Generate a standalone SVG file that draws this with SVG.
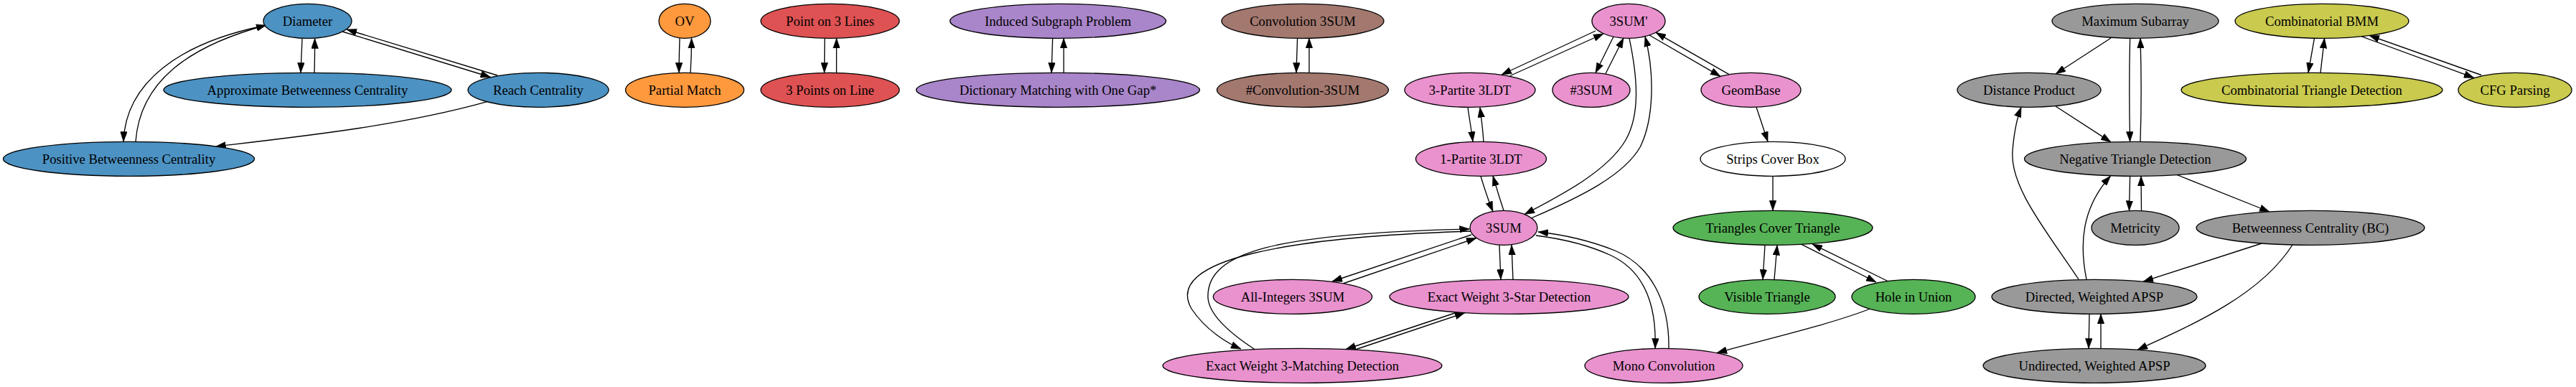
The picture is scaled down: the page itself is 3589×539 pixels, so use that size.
<svg xmlns="http://www.w3.org/2000/svg" width="3589" height="539" viewBox="0 0 3589 539">
<style>
.n ellipse{stroke:#000;stroke-width:1.33}
.n text{font-family:"Liberation Serif","Times New Roman",serif;font-size:18.67px;text-anchor:middle;fill:#000}
.e path{fill:none;stroke:#000;stroke-width:1.33;marker-end:url(#a)}
.blue{fill:#4c92c3}.orange{fill:#ff993e}.red{fill:#de5253}.purple{fill:#a985ca}.brown{fill:#a3786f}
.pink{fill:#e992ce}.gray{fill:#999999}.green{fill:#56b356}.olive{fill:#c9ca4e}.white{fill:#ffffff}
</style>
<defs>
<marker id="a" markerUnits="userSpaceOnUse" markerWidth="14" markerHeight="10" viewBox="0 0 13.33 9.33" refX="13.33" refY="4.67" orient="auto">
<path d="M0,0 L13.33,4.67 L0,9.33 z" fill="#000" stroke="#000" stroke-width="0.5"/>
</marker>
</defs>
<rect width="3589" height="539" fill="#fff"/>
<g id="edges" class="e">
<path d="M421,53.5 C420.5,70 419.5,85 419,101.3"/>
<path d="M438,101.3 C438.5,85 438.6,70 438.6,53.5"/>
<path d="M477,44 L683.5,107.5"/>
<path d="M693,105 L483,41"/>
<path d="M367,36 C250,60 175,115 172,197.3"/>
<path d="M189,197.3 C195,115 260,65 371,35"/>
<path d="M678.6,141.7 C560,175 420,190 300.5,204"/>
<path d="M947,53.3 C946.5,70 946,85 946,101.3"/>
<path d="M962,101.3 C963,85 963.5,70 963.5,53.3"/>
<path d="M1149,53.3 L1148.5,101.3"/>
<path d="M1165.5,101.3 L1165.5,53.3"/>
<path d="M1466.6,53.3 L1465,101.3"/>
<path d="M1482,101.3 L1482,53.3"/>
<path d="M1807.6,53.3 L1806,101.3"/>
<path d="M1824,101.3 L1824,53.3"/>
<path d="M2223,43 L2092,104"/>
<path d="M2104,105.5 L2234,47"/>
<path d="M2248,51 L2223,101.5"/>
<path d="M2237,102.5 L2262,53"/>
<path d="M2298,49 L2397,106.3"/>
<path d="M2409,103.7 L2307,45.3"/>
<path d="M2270,53.3 C2282,110 2285,160 2265,195 C2240,238 2175,272 2124,298.5"/>
<path d="M2134,303.5 C2200,275 2262,245 2285,205 C2305,165 2305,100 2292,51"/>
<path d="M2045,149 C2047,165 2050,180 2052,197.3"/>
<path d="M2067,197.3 C2066,182 2064,165 2062,149.5"/>
<path d="M2063,245.3 C2068,262 2074,280 2080,294.6"/>
<path d="M2095,293.3 C2090,278 2085,262 2080,245"/>
<path d="M2050,327 L1856,392"/>
<path d="M1868,396 L2057,331.5"/>
<path d="M2089,341.3 L2091,389.3"/>
<path d="M2108,389.3 L2106,341.3"/>
<path d="M2049,322 C1800,330 1620,360 1660,430 C1680,460 1710,478 1729,486"/>
<path d="M1748,486.5 C1715,465 1685,440 1683,415 C1680,350 1780,325 2047.5,319"/>
<path d="M2030,435 L1875,486.5"/>
<path d="M1888,487 L2041,435.6"/>
<path d="M2140,328 C2180,333 2215,342 2245,356 C2295,380 2308,430 2306,485.3"/>
<path d="M2325,485.3 C2326,420 2300,370 2250,349 C2215,335 2180,327 2143,323"/>
<path d="M2606,430 C2540,455 2450,475 2392,491.5"/>
<path d="M2447,149.2 L2463,197.3"/>
<path d="M2470,245.3 L2470,293.3"/>
<path d="M2459,341.5 L2456,389.3"/>
<path d="M2472,389.3 L2476,341.5"/>
<path d="M2510,340.3 L2614,393"/>
<path d="M2630,391.5 L2525,340"/>
<path d="M2941,53 L2864,103"/>
<path d="M2967.6,53.3 C2966.5,100 2966.5,150 2967.6,197.3"/>
<path d="M2982,197.3 C2983.5,150 2983.5,100 2982,53.3"/>
<path d="M2864,148 L2941,197.9"/>
<path d="M2896,389 C2850,320 2800,260 2804,210 C2806,185 2810,165 2816,149.3"/>
<path d="M2907,389.3 C2897,340 2900,290 2940.6,245"/>
<path d="M2967.6,245.3 L2966.5,293.5"/>
<path d="M2983.5,293.5 L2983,245.3"/>
<path d="M3033,243.5 L3162,295"/>
<path d="M3151,339 L2986,392.2"/>
<path d="M3194,341 C3150,410 3060,450 2978,487.2"/>
<path d="M2911,437.2 L2910,485.4"/>
<path d="M2927,485.4 L2927,437.3"/>
<path d="M3224.5,53.2 L3216,101.3"/>
<path d="M3233,101.3 L3238.6,53.2"/>
<path d="M3290,50.7 L3447,108.4"/>
<path d="M3457,104.5 L3301,49.4"/>
</g>
<g id="n-diameter" class="n"><ellipse class="blue" cx="428.5" cy="29.3" rx="61.5" ry="24"/><text x="428.5" y="35.8">Diameter</text></g>
<g id="n-approx-bc" class="n"><ellipse class="blue" cx="428.5" cy="125.3" rx="200.5" ry="24"/><text x="428.5" y="131.8">Approximate Betweenness Centrality</text></g>
<g id="n-reach" class="n"><ellipse class="blue" cx="750" cy="125.3" rx="98" ry="24"/><text x="750" y="131.8">Reach Centrality</text></g>
<g id="n-positive-bc" class="n"><ellipse class="blue" cx="179.5" cy="221.3" rx="175" ry="24"/><text x="179.5" y="227.8">Positive Betweenness Centrality</text></g>
<g id="n-ov" class="n"><ellipse class="orange" cx="954" cy="29.3" rx="36" ry="24"/><text x="954" y="35.8">OV</text></g>
<g id="n-partial-match" class="n"><ellipse class="orange" cx="954" cy="125.3" rx="82.5" ry="24"/><text x="954" y="131.8">Partial Match</text></g>
<g id="n-point-3-lines" class="n"><ellipse class="red" cx="1156.5" cy="29.3" rx="96.5" ry="24"/><text x="1156.5" y="35.8">Point on 3 Lines</text></g>
<g id="n-3-points-line" class="n"><ellipse class="red" cx="1156.5" cy="125.3" rx="96.5" ry="24"/><text x="1156.5" y="131.8">3 Points on Line</text></g>
<g id="n-induced" class="n"><ellipse class="purple" cx="1474" cy="29.3" rx="150.5" ry="24"/><text x="1474" y="35.8">Induced Subgraph Problem</text></g>
<g id="n-dict" class="n"><ellipse class="purple" cx="1474" cy="125.3" rx="197.5" ry="24"/><text x="1474" y="131.8">Dictionary Matching with One Gap*</text></g>
<g id="n-conv3sum" class="n"><ellipse class="brown" cx="1815" cy="29.3" rx="113" ry="24"/><text x="1815" y="35.8">Convolution 3SUM</text></g>
<g id="n-sharp-conv3sum" class="n"><ellipse class="brown" cx="1815" cy="125.3" rx="119.5" ry="24"/><text x="1815" y="131.8">#Convolution-3SUM</text></g>
<g id="n-3sum-prime" class="n"><ellipse class="pink" cx="2269" cy="29.3" rx="51" ry="24"/><text x="2269" y="35.8">3SUM'</text></g>
<g id="n-3partite" class="n"><ellipse class="pink" cx="2048" cy="125.3" rx="91" ry="24"/><text x="2048" y="131.8">3-Partite 3LDT</text></g>
<g id="n-sharp-3sum" class="n"><ellipse class="pink" cx="2217" cy="125.3" rx="54" ry="24"/><text x="2217" y="131.8">#3SUM</text></g>
<g id="n-geombase" class="n"><ellipse class="pink" cx="2439.5" cy="125.3" rx="69.5" ry="24"/><text x="2439.5" y="131.8">GeomBase</text></g>
<g id="n-1partite" class="n"><ellipse class="pink" cx="2063.5" cy="221.3" rx="91" ry="24"/><text x="2063.5" y="227.8">1-Partite 3LDT</text></g>
<g id="n-3sum" class="n"><ellipse class="pink" cx="2095" cy="317.3" rx="47" ry="24"/><text x="2095" y="323.8">3SUM</text></g>
<g id="n-all-integers" class="n"><ellipse class="pink" cx="1801" cy="413.3" rx="110.7" ry="24"/><text x="1801" y="419.8">All-Integers 3SUM</text></g>
<g id="n-3star" class="n"><ellipse class="pink" cx="2102.5" cy="413.3" rx="166.5" ry="24"/><text x="2102.5" y="419.8">Exact Weight 3-Star Detection</text></g>
<g id="n-3matching" class="n"><ellipse class="pink" cx="1814.5" cy="509.3" rx="194.5" ry="24"/><text x="1814.5" y="515.8">Exact Weight 3-Matching Detection</text></g>
<g id="n-mono-conv" class="n"><ellipse class="pink" cx="2318" cy="509.3" rx="110" ry="24"/><text x="2318" y="515.8">Mono Convolution</text></g>
<g id="n-strips" class="n"><ellipse class="white" cx="2470" cy="221.3" rx="101" ry="24"/><text x="2470" y="227.8">Strips Cover Box</text></g>
<g id="n-tct" class="n"><ellipse class="green" cx="2470" cy="317.3" rx="139" ry="24"/><text x="2470" y="323.8">Triangles Cover Triangle</text></g>
<g id="n-visible" class="n"><ellipse class="green" cx="2462" cy="413.3" rx="95" ry="24"/><text x="2462" y="419.8">Visible Triangle</text></g>
<g id="n-hole" class="n"><ellipse class="green" cx="2666" cy="413.3" rx="86" ry="24"/><text x="2666" y="419.8">Hole in Union</text></g>
<g id="n-max-subarray" class="n"><ellipse class="gray" cx="2975" cy="29.3" rx="116" ry="24"/><text x="2975" y="35.8">Maximum Subarray</text></g>
<g id="n-distance-product" class="n"><ellipse class="gray" cx="2827" cy="125.3" rx="100" ry="24"/><text x="2827" y="131.8">Distance Product</text></g>
<g id="n-ntd" class="n"><ellipse class="gray" cx="2975" cy="221.3" rx="154.5" ry="24"/><text x="2975" y="227.8">Negative Triangle Detection</text></g>
<g id="n-metricity" class="n"><ellipse class="gray" cx="2975" cy="317.3" rx="61" ry="24"/><text x="2975" y="323.8">Metricity</text></g>
<g id="n-bc" class="n"><ellipse class="gray" cx="3219" cy="317.3" rx="159" ry="24"/><text x="3219" y="323.8">Betweenness Centrality (BC)</text></g>
<g id="n-directed-apsp" class="n"><ellipse class="gray" cx="2918" cy="413.3" rx="143" ry="24"/><text x="2918" y="419.8">Directed, Weighted APSP</text></g>
<g id="n-undirected-apsp" class="n"><ellipse class="gray" cx="2918" cy="509.3" rx="155" ry="24"/><text x="2918" y="515.8">Undirected, Weighted APSP</text></g>
<g id="n-comb-bmm" class="n"><ellipse class="olive" cx="3235" cy="29.3" rx="121" ry="24"/><text x="3235" y="35.8">Combinatorial BMM</text></g>
<g id="n-comb-td" class="n"><ellipse class="olive" cx="3221" cy="125.3" rx="182" ry="24"/><text x="3221" y="131.8">Combinatorial Triangle Detection</text></g>
<g id="n-cfg" class="n"><ellipse class="olive" cx="3504" cy="125.3" rx="79" ry="24"/><text x="3504" y="131.8">CFG Parsing</text></g>
</svg>
